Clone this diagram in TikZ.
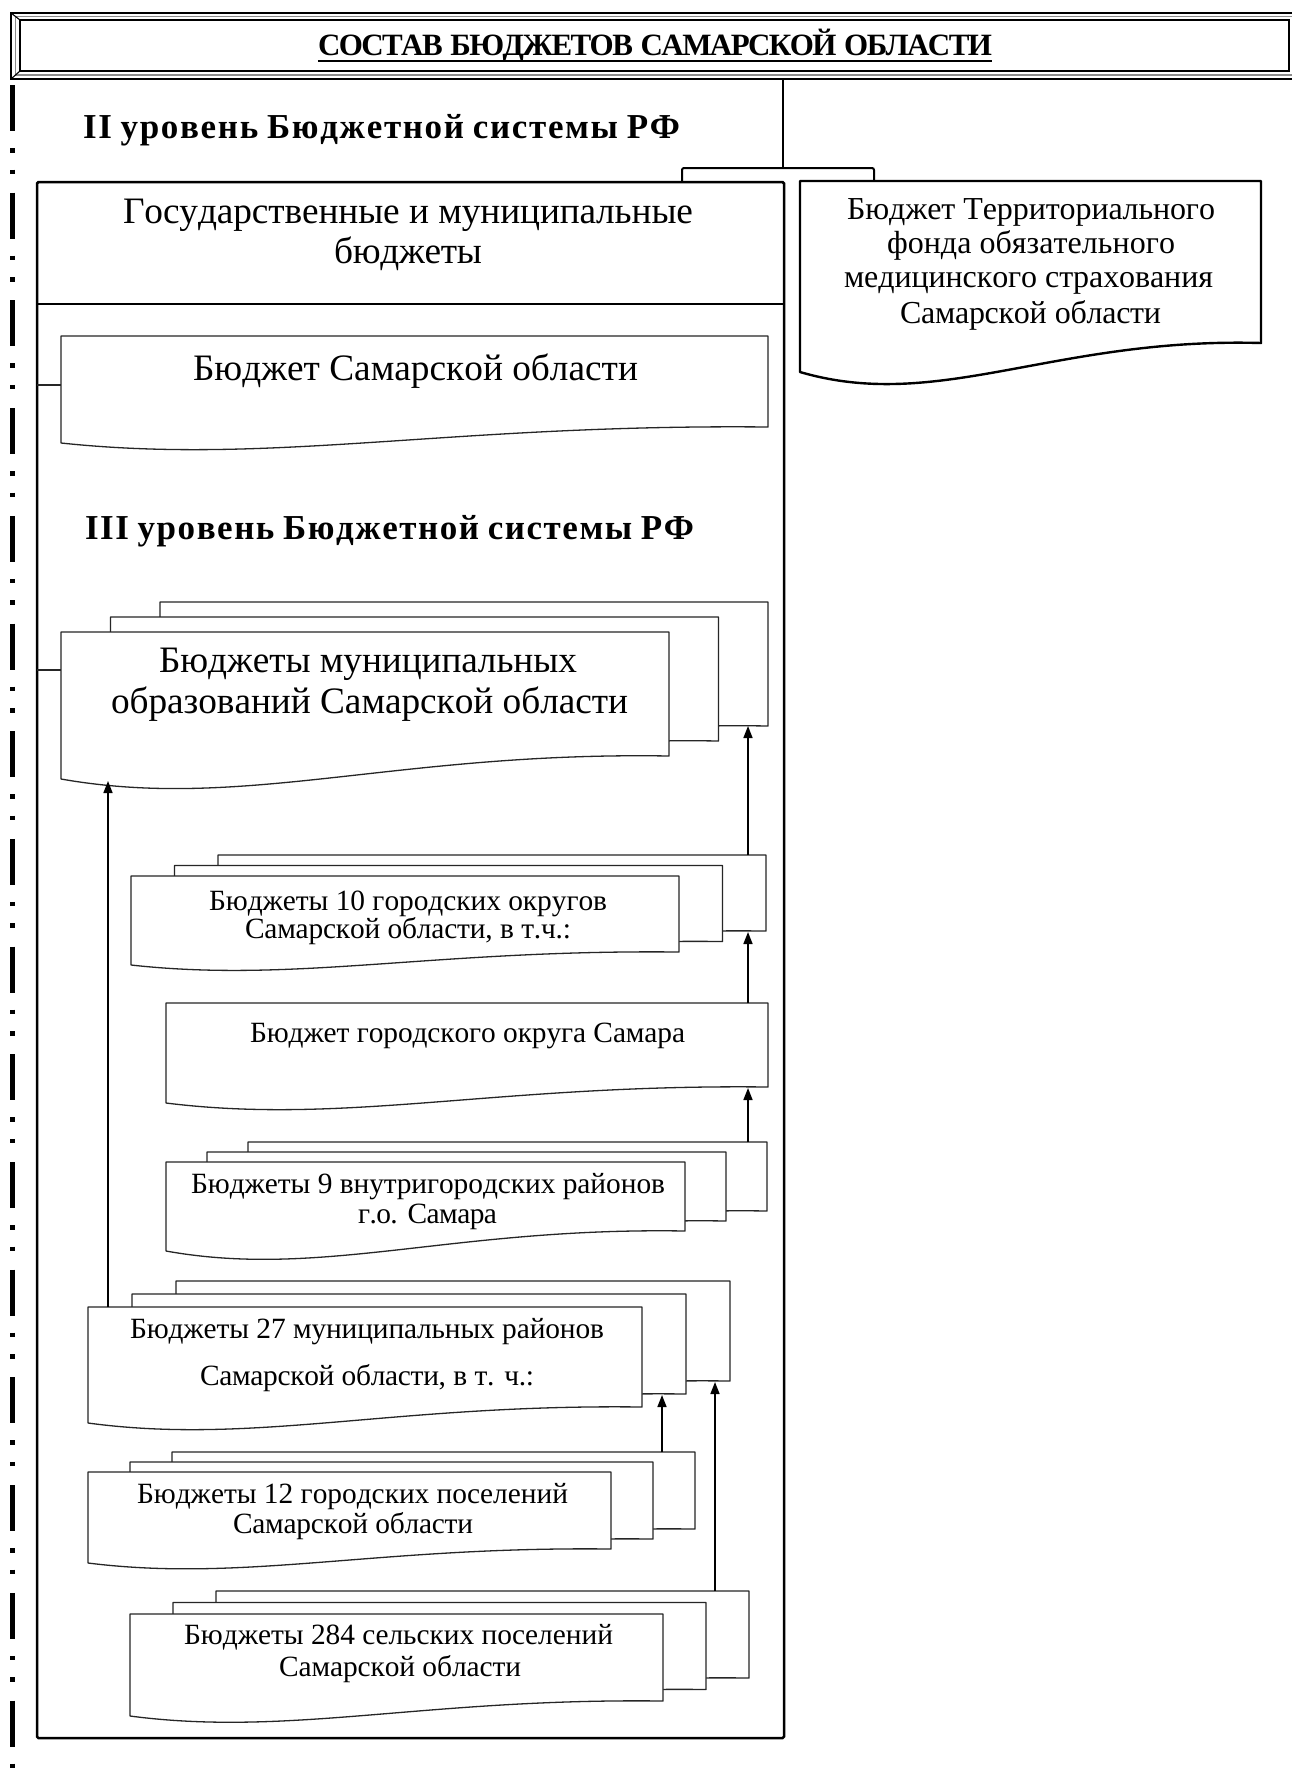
\documentclass[tikz,border=0pt]{standalone}
\usepackage{fontspec}
\setmainfont{Liberation Serif}
\usetikzlibrary{arrows.meta}

% letter spacing that makes a line exactly #1 pt wide
\newdimen\lsp
\newlength\fitwa
\newlength\fitwb
\newcount\fitgaps
\XeTeXinterchartoks 0 0 = {\kern\lsp}
\newcommand\fitline[2]{%
  \begingroup
  \XeTeXinterchartokenstate=1
  \lsp=0pt\settowidth\fitwa{#2}%
  \lsp=1pt\settowidth\fitwb{#2}%
  \fitgaps=\numexpr(\fitwb-\fitwa)/65536\relax
  \ifnum\fitgaps>0 \lsp=\dimexpr(#1pt-\fitwa)/\fitgaps\relax\else\lsp=0pt\fi
  #2%
  \endgroup}

% document symbol: left, top, right, bottom-left y, bottom-right y
\newcommand\docat[6][]{%
  \path[docline,#1] (#2,#3) -- (#4,#3) -- (#4,#6)
    .. controls ({(#2)+0.55*((#4)-(#2))},{(#6)-0.2*((#5)-(#6))})
       and ({(#2)+0.3*((#4)-(#2))},{(#5)+1.4*((#5)-(#6))}) .. (#2,#5) -- cycle;}

% stack of three documents: front sheet, then offset dx, dy for each sheet behind
\newcommand\multidoc[7]{%
  \foreach \k in {2,1,0}{%
    \pgfmathsetmacro\mdL{#1+\k*#6}%
    \pgfmathsetmacro\mdT{#2-\k*#7}%
    \pgfmathsetmacro\mdR{#3+\k*#6}%
    \pgfmathsetmacro\mdA{#4-\k*#7}%
    \pgfmathsetmacro\mdB{#5-\k*#7}%
    \docat{\mdL}{\mdT}{\mdR}{\mdA}{\mdB}}}

\begin{document}
\begin{tikzpicture}[x=1pt,y=-1pt,
  docline/.style={draw=black!85,line width=1.3pt,fill=white,line join=round},
  conn/.style={draw=black,line width=1.5pt},
  arr/.style={conn,-{Triangle[length=12pt,width=9pt]}},
  txt/.style={inner sep=0pt,anchor=base,font=\fontsize{29.4pt}{34pt}\selectfont},
  bigtxt/.style={txt,font=\fontsize{37.3pt}{44pt}\selectfont},
  midtxt/.style={txt,font=\fontsize{32pt}{38pt}\selectfont},
  titletxt/.style={txt,font=\fontsize{31pt}{36pt}\selectfont\bfseries},
  headtxt/.style={txt,font=\fontsize{35pt}{40pt}\selectfont\bfseries},
]
\useasboundingbox (0,0) rectangle (1292,1775);
\clip (0,0) rectangle (1292,1775);
\fill[white] (0,0) rectangle (1292,1775);

% title frame
\draw[line width=1.8pt] (11,13) rectangle (1300,79);
\draw[line width=1.1pt,black!45] (15.5,16.5) rectangle (1294,75);
\draw[line width=1.8pt] (20,20) rectangle (1289,71);
\draw[line width=1.1pt] (11,13) -- (20,20) (11,79) -- (20,71);
\node[titletxt] (title) at (655,55) {\fitline{674}{СОСТАВ БЮДЖЕТОВ САМАРСКОЙ ОБЛАСТИ}};
\draw[line width=2pt] ([yshift=-5.5pt]title.base west) -- ([yshift=-5.5pt]title.base east);

% dash-dot margin line
\draw[line width=4.5pt,dash pattern=on 46pt off 17pt on 4.5pt off 17pt on 4.5pt off 18.7pt]
  (12.3,85) -- (12.3,1780);

% split below the title
\coordinate (title-foot) at (783,79);
\coordinate (split) at (783,168);
\draw[conn,line width=2pt] (title-foot) -- (split);
\draw[conn,line width=2pt,rounded corners=2pt] (682,182) -- (682,168) -- (874,168) -- (874,181);

% level II heading
\node[headtxt] (lvl2) at (381.5,138) {\fitline{597}{II уровень Бюджетной системы РФ}};

% outer box of state and municipal budgets
\draw[line width=2.5pt,rounded corners=1.5pt] (37,182) rectangle (784,1738);
\draw[line width=2.5pt] (37,304) -- (784,304);
\node[bigtxt] (gm1) at (408,223) {\fitline{570}{Государственные и муниципальные}};
\node[bigtxt] (gm2) at (408,263) {\fitline{148}{бюджеты}};

% territorial fund budget
\docat[line width=2.4pt,draw=black]{800}{181}{1261}{372}{343}
\node[midtxt] (tf1) at (1031,219) {\fitline{368}{Бюджет Территориального}};
\node[midtxt] (tf2) at (1031,253) {\fitline{288}{фонда обязательного}};
\node[midtxt] (tf3) at (1028.5,287) {\fitline{369}{медицинского страхования}};
\node[midtxt] (tf4) at (1030.5,323) {\fitline{261}{Самарской области}};

% regional budget
\docat{61}{336}{768}{443}{427}
\node[bigtxt] (reg) at (415.5,380) {\fitline{445}{Бюджет Самарской области}};
\coordinate (box-w1) at (37,385);
\coordinate (reg-w) at (61,385);
\draw[docline] (box-w1) -- (reg-w);

% level III heading
\node[headtxt] (lvl3) at (389.5,539) {\fitline{609}{III уровень Бюджетной системы РФ}};

% municipal budgets
\multidoc{61}{632}{669}{779}{756}{49.5}{15}
\node[bigtxt] (mun1) at (368,672) {\fitline{418}{Бюджеты муниципальных}};
\node[bigtxt] (mun2) at (369.5,713) {\fitline{517}{образований Самарской области}};
\coordinate (box-w2) at (37,670);
\coordinate (mun-w) at (61,670);
\draw[docline] (box-w2) -- (mun-w);

% urban districts
\multidoc{131}{876}{679}{965}{952}{43.5}{10.5}
\node[txt] (okr1) at (408,910) {\fitline{398}{Бюджеты 10 городских округов}};
\node[txt] (okr2) at (408,938) {\fitline{326}{Самарской области, в т.ч.:}};

% Samara
\docat{166}{1003}{768}{1103}{1087}
\node[txt] (sam) at (467.5,1042) {\fitline{435}{Бюджет городского округа Самара}};

% intra-city districts
\multidoc{166}{1162}{685}{1251}{1231}{41}{10}
\node[txt] (rai1) at (428,1193) {\fitline{474}{Бюджеты 9 внутригородских районов}};
\node[txt] (rai2) at (427.5,1223) {\fitline{139}{г.о. Самара}};

% municipal districts
\multidoc{88}{1307}{642}{1423}{1407}{44}{13}
\node[txt] (mr1) at (367,1338) {\fitline{474}{Бюджеты 27 муниципальных районов}};
\node[txt] (mr2) at (367,1385) {\fitline{334}{Самарской области, в т. ч.:}};

% urban settlements
\multidoc{88}{1472}{611}{1563}{1549}{42}{10}
\node[txt] (gp1) at (352.5,1503) {\fitline{431}{Бюджеты 12 городских поселений}};
\node[txt] (gp2) at (353,1533) {\fitline{240}{Самарской области}};

% rural settlements
\multidoc{130}{1614}{663}{1716}{1701}{43}{11.5}
\node[txt] (sp1) at (398.5,1644) {\fitline{429}{Бюджеты 284 сельских поселений}};
\node[txt] (sp2) at (400,1676) {\fitline{242}{Самарской области}};

% upward links
\coordinate (mr-top) at (108,1307);
\coordinate (mun-foot-l) at (108,781);
\coordinate (okr-top) at (748,855);
\coordinate (mun-foot-r) at (748,726);
\coordinate (sam-top) at (748,1003);
\coordinate (okr-foot) at (748,932);
\coordinate (rai-top) at (748,1142);
\coordinate (sam-foot) at (748,1088);
\coordinate (gp-top) at (662,1452);
\coordinate (mr-foot-m) at (662,1395);
\coordinate (sp-top) at (715,1591);
\coordinate (mr-foot-b) at (715,1382);
\draw[arr] (mr-top) -- (mun-foot-l);
\draw[arr] (okr-top) -- (mun-foot-r);
\draw[arr] (sam-top) -- (okr-foot);
\draw[arr] (rai-top) -- (sam-foot);
\draw[arr] (gp-top) -- (mr-foot-m);
\draw[arr] (sp-top) -- (mr-foot-b);
\end{tikzpicture}
\end{document}
